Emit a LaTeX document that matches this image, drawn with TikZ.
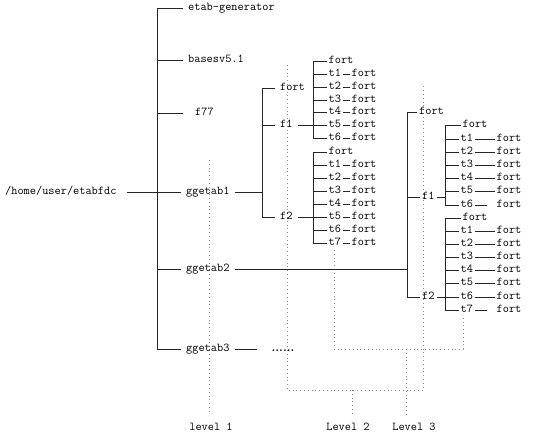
\documentclass[tikz,border=0pt]{standalone}
\usepackage{fontspec}
\begin{document}
\begin{tikzpicture}[x=1pt,y=-1pt,font=\ttfamily\fontsize{12}{14}\selectfont,
  item/.style={anchor=west,inner xsep=5pt,inner ysep=1pt,text height=7pt,text depth=2pt},
  leaf/.style={item,inner xsep=1.5pt},
  branch/.style={black!85,line width=.7pt},
  levelline/.style={black!45,line width=.6pt,dash pattern=on .8pt off 3pt},
  lvltext/.style={inner sep=1pt,text height=7pt,text depth=2pt}]
\useasboundingbox (0,0) rectangle (559,436);
% level marks
\node[lvltext] (lv1) at (211,428) {level 1};
\node[lvltext] (lv2) at (348,428) {Level 2};
\node[lvltext] (lv3) at (414,428) {Level 3};
\coordinate (d1) at (209,160);
\draw[levelline,shorten >=8pt] (d1) -- (d1 |- lv1.north);
\coordinate (b1l) at (287,65);
\coordinate (b1m) at (352,390);
\coordinate (b1r) at (423,85);
\draw[levelline] (b1l) |- (b1m) -| (b1r);
\draw[levelline,shorten >=8pt] (b1m) -- (b1m |- lv2.north);
\coordinate (b2l) at (334,250);
\coordinate (b2m) at (406,349);
\coordinate (b2r) at (463,315);
\draw[levelline] (b2l) |- (b2m) -| (b2r);
\draw[levelline,shorten >=8pt] (b2m) -- (b2m |- lv3.north);
% root
\node[item] (root) at (0,192) {/home/user/etabfdc};
\coordinate (j0) at (157,192);
\node[item] (gen) at (183,8) {etab-generator};
\node[item] (bases) at (183,60) {basesv5.1};
\node[item] (f77) at (190,113) {f77};
\node[item] (gg1) at (181,192) {ggetab1};
\node[item] (gg2) at (181,269) {ggetab2};
\node[item] (gg3) at (181,349) {ggetab3};
\draw[branch,shorten <=5pt] (root) -- (j0);
\draw[branch] (j0) |- (gen.west);
\draw[branch] (j0) |- (bases.west);
\draw[branch] (j0) |- ([xshift=-7pt]f77.west);
\draw[branch] (j0) -- (gg1.west);
\draw[branch] (j0) |- (gg2.west);
\draw[branch] (j0) |- (gg3.west);
% ggetab1
\coordinate (j1) at (262,192);
\draw[branch] (gg1) -- (j1);
\node[item] (fort1) at (275,88) {fort};
\node[item] (f1a) at (275,125) {f1};
\node[item] (f2a) at (275,217) {f2};
\draw[branch] (j1) |- (fort1.west) (j1) |- (f1a.west) (j1) |- (f2a.west);
\coordinate (jA) at (313,125);
\coordinate (jB) at (313,217);
\draw[branch] (f1a) -- (jA);
\draw[branch] (f2a) -- (jB);
\node[leaf] (fA0) at (327,61) {fort};
\node[leaf] (tA1) at (327,74) {t1};
\node[leaf] (fA1) at (350,74) {fort};
\node[leaf] (tA2) at (327,87) {t2};
\node[leaf] (fA2) at (350,87) {fort};
\node[leaf] (tA3) at (327,100) {t3};
\node[leaf] (fA3) at (350,100) {fort};
\node[leaf] (tA4) at (327,112) {t4};
\node[leaf] (fA4) at (350,112) {fort};
\node[leaf] (tA5) at (327,125) {t5};
\node[leaf] (fA5) at (350,125) {fort};
\node[leaf] (tA6) at (327,138) {t6};
\node[leaf] (fA6) at (350,138) {fort};
\draw[branch] (jA) |- (fA0.west) (jA) |- (tA1.west) (jA) |- (tA2.west) (jA) |- (tA3.west)
  (jA) |- (tA4.west) (jA) -- (tA5.west) (jA) |- (tA6.west);
\draw[branch] (tA1) -- (fA1) (tA2) -- (fA2) (tA3) -- (fA3) (tA4) -- (fA4) (tA5) -- (fA5) (tA6) -- (fA6);
\node[leaf] (fB0) at (327,152) {fort};
\node[leaf] (tB1) at (327,165) {t1};
\node[leaf] (fB1) at (350,165) {fort};
\node[leaf] (tB2) at (327,178) {t2};
\node[leaf] (fB2) at (350,178) {fort};
\node[leaf] (tB3) at (327,191) {t3};
\node[leaf] (fB3) at (350,191) {fort};
\node[leaf] (tB4) at (327,204) {t4};
\node[leaf] (fB4) at (350,204) {fort};
\node[leaf] (tB5) at (327,217) {t5};
\node[leaf] (fB5) at (350,217) {fort};
\node[leaf] (tB6) at (327,230) {t6};
\node[leaf] (fB6) at (350,230) {fort};
\node[leaf] (tB7) at (327,243) {t7};
\node[leaf] (fB7) at (350,243) {fort};
\draw[branch] (jB) |- (fB0.west) (jB) |- (tB1.west) (jB) |- (tB2.west) (jB) |- (tB3.west)
  (jB) |- (tB4.west) (jB) -- (tB5.west) (jB) |- (tB6.west) (jB) |- (tB7.west);
\draw[branch] (tB1) -- (fB1) (tB2) -- (fB2) (tB3) -- (fB3) (tB4) -- (fB4) (tB5) -- (fB5)
  (tB6) -- (fB6) (tB7) -- (fB7);
% ggetab2
\coordinate (j2) at (407,269);
\draw[branch] (gg2) -- (j2);
\node[item,inner xsep=2pt] (fort2) at (417,112) {fort};
\node[item,inner xsep=2pt] (f1b) at (420,197) {f1};
\node[item,inner xsep=2pt] (f2b) at (420,297) {f2};
\draw[branch] (j2) |- (fort2.west) (j2) |- (f1b.west) (j2) |- (f2b.west);
\coordinate (jC) at (445,197);
\coordinate (jD) at (445,297);
\draw[branch] (f1b) -- (jC);
\draw[branch] (f2b) -- (jD);
\node[leaf] (fC0) at (461,125) {fort};
\node[leaf] (tC1) at (459,139) {t1};
\node[leaf] (fC1) at (495,139) {fort};
\node[leaf] (tC2) at (459,152) {t2};
\node[leaf] (fC2) at (495,152) {fort};
\node[leaf] (tC3) at (459,165) {t3};
\node[leaf] (fC3) at (495,165) {fort};
\node[leaf] (tC4) at (459,178) {t4};
\node[leaf] (fC4) at (495,178) {fort};
\node[leaf] (tC5) at (459,191) {t5};
\node[leaf] (fC5) at (495,191) {fort};
\node[leaf] (tC6) at (459,205) {t6};
\node[leaf] (fC6) at (495,205) {fort};
\draw[branch] (jC) |- (fC0.west) (jC) |- (tC1.west) (jC) |- (tC2.west) (jC) |- (tC3.west)
  (jC) |- (tC4.west) (jC) |- (tC5.west) (jC) |- (tC6.west);
\draw[branch,shorten >=8pt] (tC1) -- (fC1) (tC2) -- (fC2) (tC3) -- (fC3) (tC4) -- (fC4)
  (tC5) -- (fC5) (tC6) -- (fC6);
\node[leaf] (fD0) at (461,218) {fort};
\node[leaf] (tD1) at (459,231) {t1};
\node[leaf] (fD1) at (495,231) {fort};
\node[leaf] (tD2) at (459,244) {t2};
\node[leaf] (fD2) at (495,244) {fort};
\node[leaf] (tD3) at (459,257) {t3};
\node[leaf] (fD3) at (495,257) {fort};
\node[leaf] (tD4) at (459,270) {t4};
\node[leaf] (fD4) at (495,270) {fort};
\node[leaf] (tD5) at (459,283) {t5};
\node[leaf] (fD5) at (495,283) {fort};
\node[leaf] (tD6) at (459,297) {t6};
\node[leaf] (fD6) at (495,297) {fort};
\node[leaf] (tD7) at (459,310) {t7};
\node[leaf] (fD7) at (495,310) {fort};
\draw[branch] (jD) |- (fD0.west) (jD) |- (tD1.west) (jD) |- (tD2.west) (jD) |- (tD3.west)
  (jD) |- (tD4.west) (jD) |- (tD5.west) (jD) -- (tD6.west) (jD) |- (tD7.west);
\draw[branch,shorten >=8pt] (tD1) -- (fD1) (tD2) -- (fD2) (tD3) -- (fD3) (tD4) -- (fD4)
  (tD5) -- (fD5) (tD6) -- (fD6) (tD7) -- (fD7);
% ggetab3
\coordinate (j3) at (257,349);
\draw[branch] (gg3) -- (j3);
\node[anchor=base,inner sep=0pt,font=\rmfamily\bfseries\fontsize{12}{14}\selectfont] (more) at (283,351) {......};
\end{tikzpicture}
\end{document}
